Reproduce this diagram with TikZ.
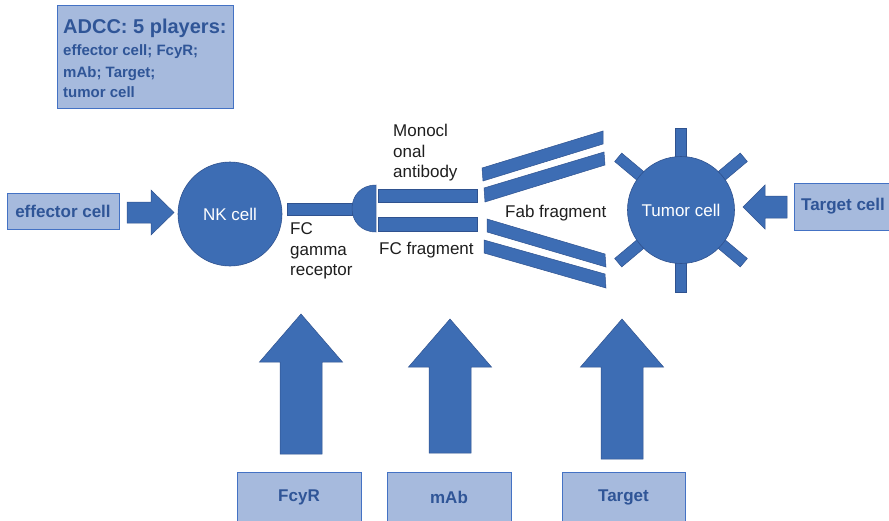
\documentclass[tikz,border=0pt]{standalone}
\usepackage{fontspec}
\setmainfont{Liberation Sans}
\usetikzlibrary{positioning}

\definecolor{cellblue}{HTML}{3D6DB4}
\definecolor{cellline}{HTML}{2F528F}
\definecolor{boxfill}{HTML}{A6BADD}
\definecolor{boxline}{HTML}{4472C4}
\definecolor{boxtext}{HTML}{2F5597}
\definecolor{labeltext}{HTML}{1E1E1E}

\tikzset{
  playerbox/.style={rectangle, draw=boxline, fill=boxfill, line width=0.8pt, text=boxtext, font=\bfseries\fontsize{17}{20}\selectfont, inner sep=0pt},
  cell/.style={circle, draw=cellline, fill=cellblue, line width=0.6pt, text=white, font=\fontsize{17}{20}\selectfont, inner sep=0pt},
  molecule/.style={draw=cellline, fill=cellblue, line width=0.5pt},
  blockarrow/.style={draw=cellline, fill=cellblue, line width=0.5pt, line join=miter},
  annot/.style={text=labeltext, font=\fontsize{17}{20.5}\selectfont, align=left, inner sep=0pt, anchor=west}
}

\begin{document}
\begin{tikzpicture}[x=1pt, y=-1pt]
    \useasboundingbox (0,0) rectangle (889,520);

    % summary box
    \node (players) [playerbox, anchor=north west, minimum width=176pt, minimum height=103pt] at (57,5) {};
    \node (playerstext) [anchor=north west, align=left, text=boxtext, font=\bfseries\fontsize{15}{22}\selectfont, inner sep=0pt] at (63,18.5) {{\fontsize{20}{22}\selectfont ADCC: 5 players:}\\effector cell; FcyR;\\mAb; Target;\\[-2pt]tumor cell};

    % side boxes
    \node (effector) [playerbox, minimum width=112pt, minimum height=36pt] at (63,211) {effector cell};
    \node (targetcell) [playerbox, minimum width=98pt, minimum height=47pt] at (843,206.5) {Target cell};

    % cells
    \node (nk) [cell, minimum size=104pt] at (230,214) {NK cell};
    \coordinate (tumorc) at (681,210);
    \foreach \a in {90,40,140,220,320,270}
        \draw [molecule, shift={(tumorc)}, rotate=\a] (40,-5.5) rectangle (82,5.5);
    \node (tumor) [cell, minimum size=107pt] at (tumorc) {Tumor cell};

    % receptor and antibody
    \draw [molecule] (287,203) rectangle (352,215);
    \draw [molecule] (376,185) .. controls (344,185) and (344,232) .. (376,232) -- cycle;
    \draw [molecule] (378,189) rectangle (477,202);
    \draw [molecule] (378,217) rectangle (477,231);
    \draw [molecule] (482,168) -- (603,131) -- (603,144) -- (483,181) -- cycle;
    \draw [molecule] (484,188) -- (604,152) -- (605,165) -- (485,202) -- cycle;
    \draw [molecule] (487,219) -- (605,254) -- (606,267) -- (487,232) -- cycle;
    \draw [molecule] (484,240) -- (605,274) -- (606,288) -- (484,253) -- cycle;

    % labels
    \node (mablabel) [annot] at (393,153) {Monocl\\onal\\antibody};
    \node (fcrlabel) [annot] at (290,251) {FC\\gamma\\receptor};
    \node (fclabel) [annot] at (379,250) {FC fragment};
    \node (fablabel) [annot] at (505,213) {Fab fragment};

    % block arrows
    \draw [blockarrow] (127,202) -- (151,202) -- (151,190) -- (174,212.5) -- (151,235) -- (151,223) -- (127,223) -- cycle;
    \draw [blockarrow] (787,196) -- (765,196) -- (765,185) -- (743,207) -- (765,229) -- (765,218) -- (787,218) -- cycle;
    \foreach \x/\tip/\base/\bottom in {301/314/362/454, 450/319/367/453, 622/319/367/459}
        \draw [blockarrow] (\x-21,\bottom) -- (\x-21,\base) -- (\x-41.5,\base) -- (\x,\tip) -- (\x+41.5,\base) -- (\x+21,\base) -- (\x+21,\bottom) -- cycle;

    % bottom boxes
    \node (fcyr) [playerbox, minimum width=124pt, minimum height=50pt] at (299,497) {FcyR};
    \node (mab) [playerbox, minimum width=124pt, minimum height=50pt] at (449,497) {mAb};
    \node (target) [playerbox, minimum width=123pt, minimum height=50pt] at (623.5,497) {Target};
\end{tikzpicture}
\end{document}
